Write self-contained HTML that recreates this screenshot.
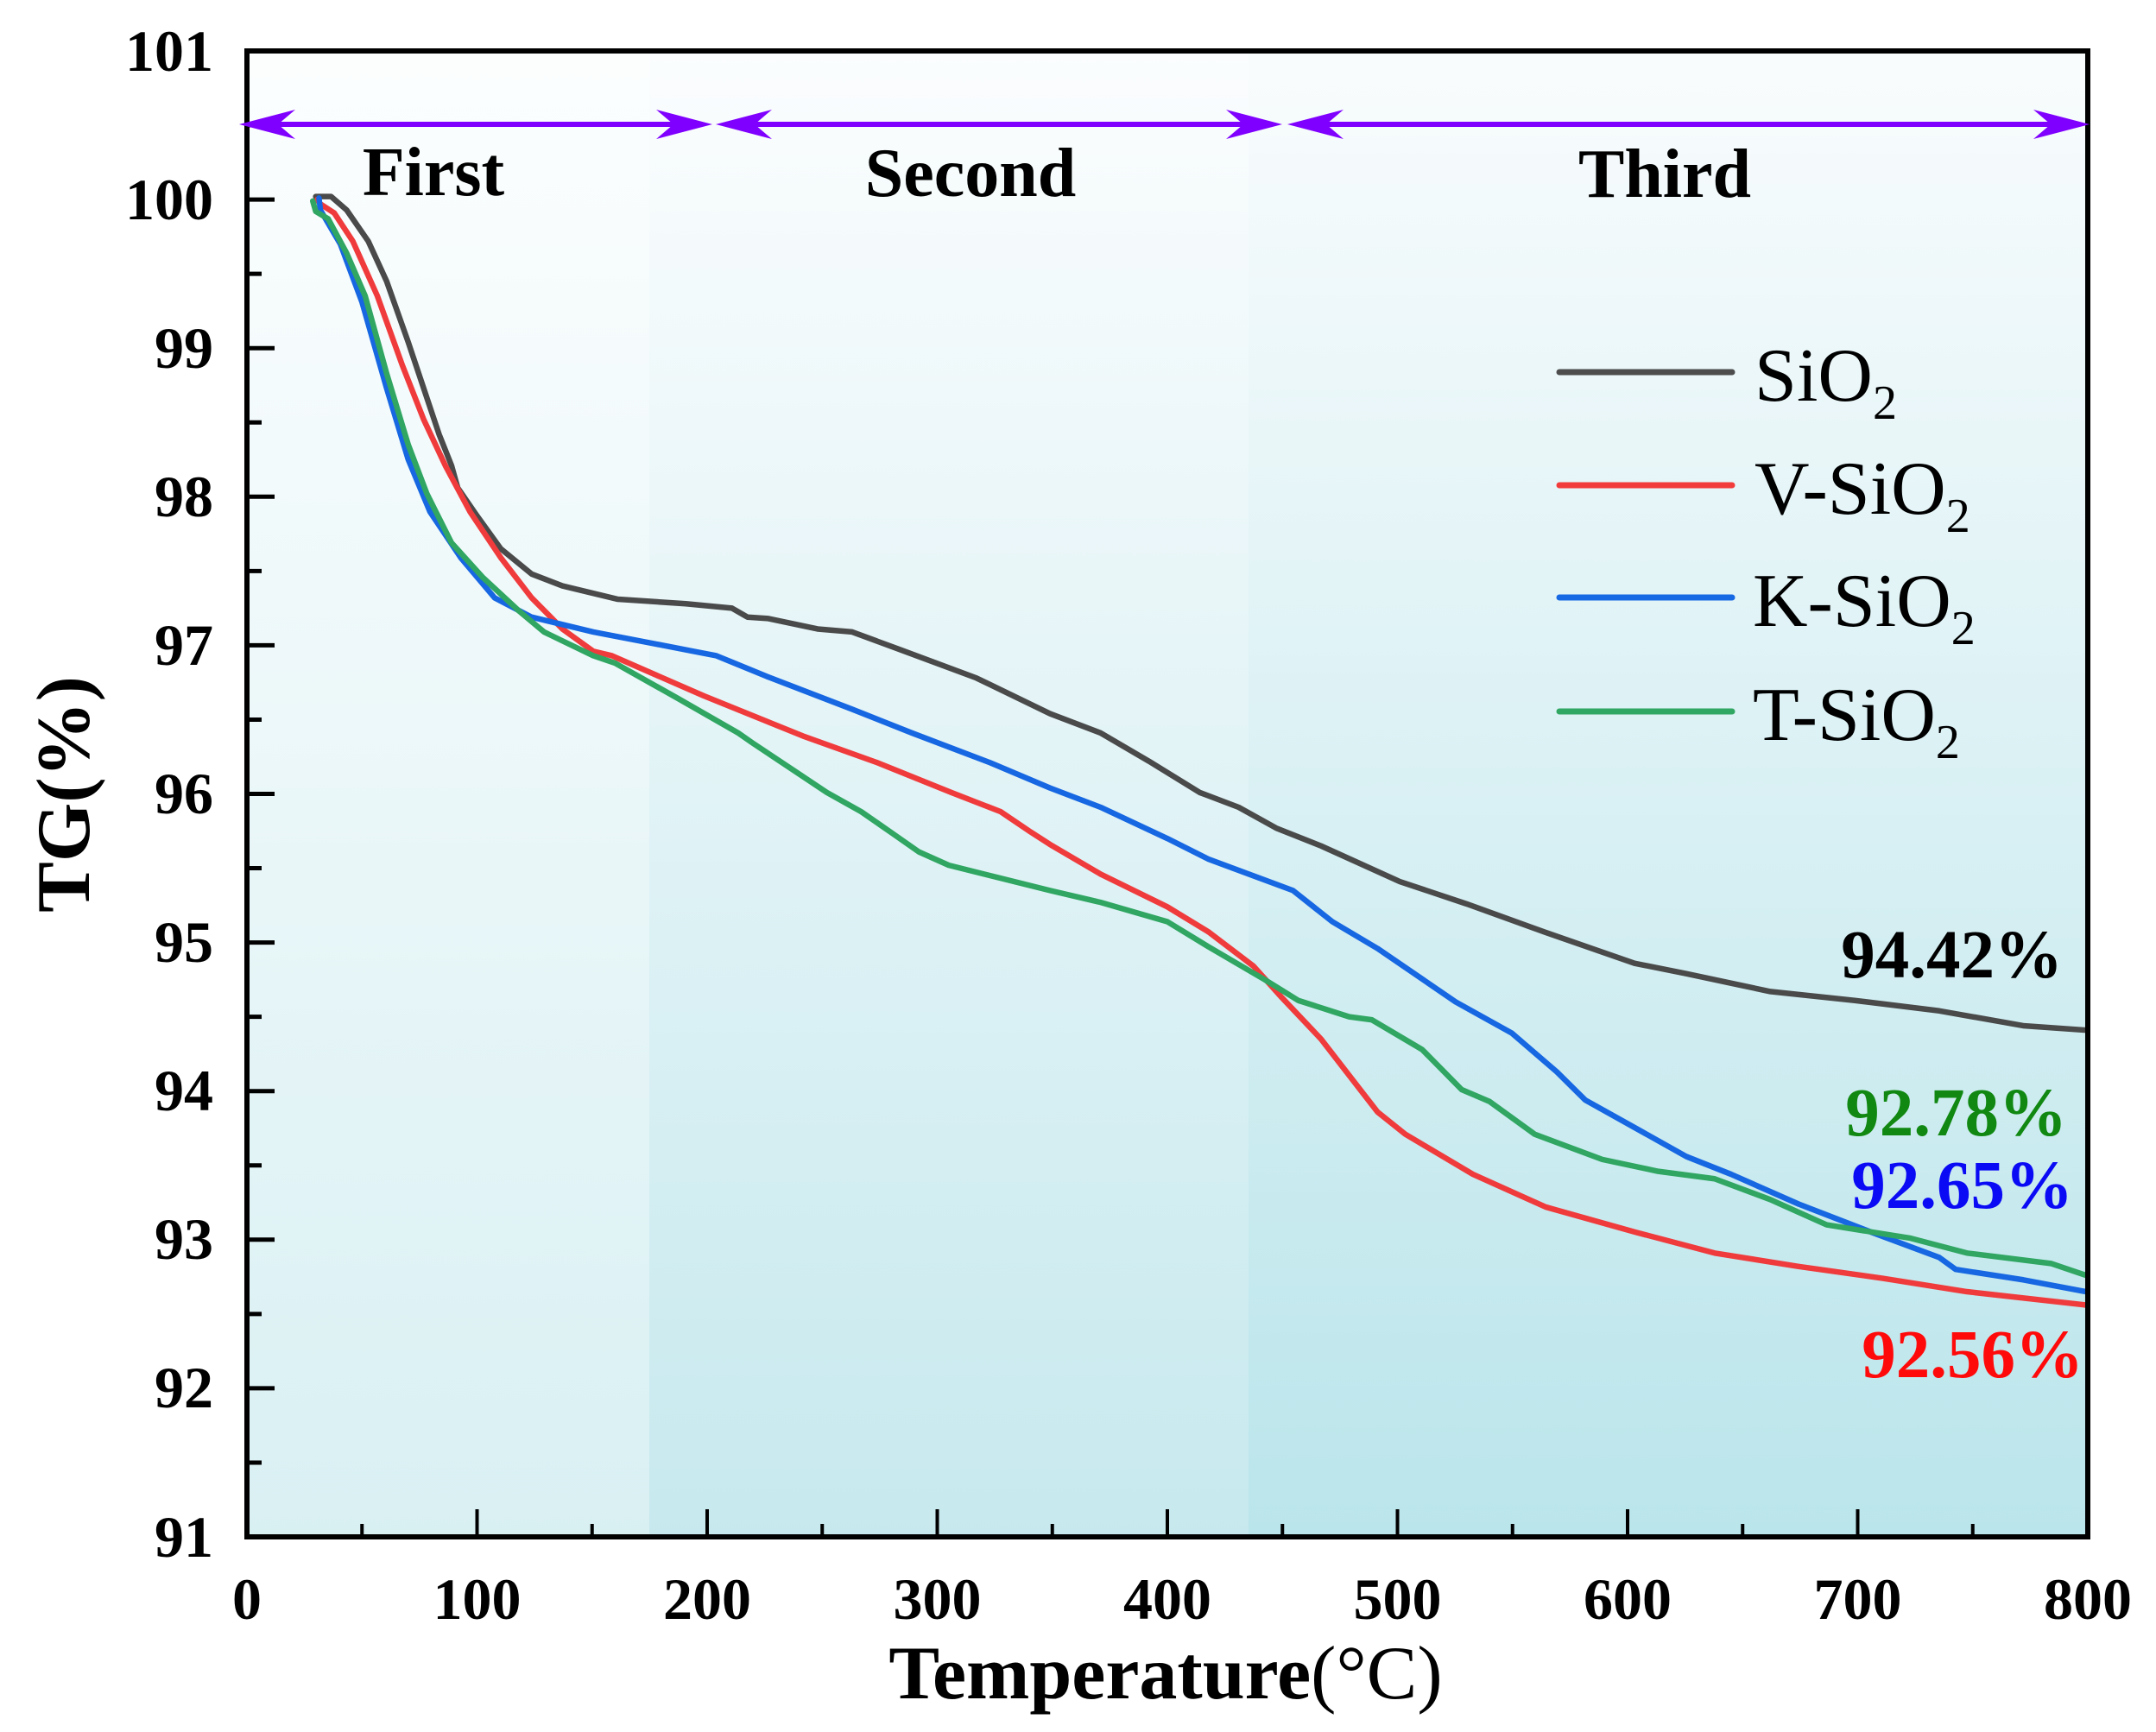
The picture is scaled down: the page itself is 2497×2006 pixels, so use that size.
<!DOCTYPE html>
<html>
<head>
<meta charset="utf-8">
<style>
  html,body{margin:0;padding:0;background:#fff;}
  svg{display:block;}
  text{font-family:"Liberation Serif","Times New Roman",serif;}
</style>
</head>
<body>
<svg width="2497" height="2006" viewBox="0 0 2497 2006" xmlns="http://www.w3.org/2000/svg">
  <defs>
    <linearGradient id="gL" x1="0" y1="0" x2="0" y2="1">
      <stop offset="0" stop-color="#fcfefe"/>
      <stop offset="1" stop-color="#d9f0f3"/>
    </linearGradient>
    <linearGradient id="gM" x1="0" y1="0" x2="0" y2="1">
      <stop offset="0" stop-color="#fbfdfe"/>
      <stop offset="1" stop-color="#c7e9ee"/>
    </linearGradient>
    <linearGradient id="gR" x1="0" y1="0" x2="0" y2="1">
      <stop offset="0" stop-color="#f9fcfd"/>
      <stop offset="1" stop-color="#bae5eb"/>
    </linearGradient>
  </defs>

  <rect x="0" y="0" width="2497" height="2006" fill="#ffffff"/>

  <!-- background regions -->
  <rect x="286" y="59" width="466" height="1721" fill="url(#gL)"/>
  <rect x="752" y="59" width="694" height="1721" fill="url(#gM)"/>
  <rect x="1446" y="59" width="972" height="1721" fill="url(#gR)"/>

  <!-- curves (data coords mapped) -->
  <g transform="translate(286,1780) scale(2.665,-172.1) translate(0,-91)" fill="none" stroke-linejoin="round" stroke-linecap="round">
    <polyline vector-effect="non-scaling-stroke" stroke="#4a4a4a" stroke-width="6.5" points="
      29.9,100.02 36.6,100.02 43.3,99.93 52.7,99.72 60.7,99.45 70.1,99.04 76.8,98.73 83.5,98.42 88.9,98.21 91.6,98.06
      99.6,97.88 110.3,97.65 123.7,97.48 137.1,97.40 161.2,97.31 190.7,97.28 210.8,97.25 217.5,97.19 226.6,97.18
      248,97.11 263,97.09 284,96.97 317,96.78 349,96.54 371,96.41 392,96.22 414,96.01 431,95.91 447.3,95.77
      466.8,95.65 501,95.41 530,95.26 564,95.07 603,94.86 625.5,94.79 662,94.67 698.7,94.61 735.5,94.54 771.9,94.44 799.3,94.41"/>
    <polyline vector-effect="non-scaling-stroke" stroke="#f03b3c" stroke-width="6.5" points="
      30.5,100.0 31.9,99.97 37.9,99.91 46,99.72 56.7,99.35 67.4,98.89 76.8,98.52 86.2,98.21 96.9,97.90 110.3,97.59
      123.7,97.32 137.1,97.11 150.5,96.96 158.6,96.93 198.5,96.66 241.6,96.39 274,96.21 306,96.01 327.6,95.88
      340,95.75 349,95.66 371,95.46 400,95.24 418,95.07 437.5,94.84 449.7,94.63 466.8,94.35 491.3,93.86 503.4,93.71
      532.8,93.44 564.4,93.22 603.6,93.05 637.8,92.91 674.3,92.82 710.9,92.74 747.5,92.65 799.3,92.56"/>
    <polyline vector-effect="non-scaling-stroke" stroke="#1767e2" stroke-width="6.5" points="
      31.3,100.01 31.9,99.93 40.6,99.70 50,99.31 60.7,98.73 70.1,98.25 79.5,97.90 92.9,97.59 107.6,97.32 123.7,97.19
      150.5,97.09 177.3,97.01 194,96.96 204,96.93 226,96.79 263,96.57 289,96.41 323,96.21 349,96.04 371,95.91
      400,95.70 418,95.56 454.6,95.35 471.7,95.14 491.3,94.96 525.3,94.60 549.7,94.39 569.2,94.13 581.6,93.94
      603.6,93.75 625.5,93.56 645,93.44 674.3,93.24 706,93.05 735.5,92.88 742.6,92.80 771.9,92.73 799.3,92.65"/>
    <polyline vector-effect="non-scaling-stroke" stroke="#30a662" stroke-width="6.5" points="
      28.6,99.99 29.9,99.92 35.3,99.87 43.3,99.64 51.4,99.35 60.7,98.83 70.1,98.35 78.2,98.02 88.9,97.69 102.3,97.46
      118.3,97.23 129.1,97.09 137.1,97.03 150.5,96.93 160,96.88 187.6,96.64 213.5,96.41 220,96.34 252,96.01 267,95.88
      280,95.74 292,95.61 305,95.52 323,95.45 349,95.35 371,95.27 400,95.14 418,94.97 442.3,94.75 456.9,94.61
      479,94.50 488.8,94.48 510.7,94.28 527.9,94.01 540,93.93 559.6,93.71 589,93.54 613.3,93.46 637.8,93.41
      662,93.27 686.5,93.10 723,93.01 747.5,92.91 784,92.84 799.3,92.76"/>
  </g>

  <!-- frame -->
  <rect x="286" y="59" width="2132" height="1721" fill="none" stroke="#000" stroke-width="6"/>

  <!-- y ticks -->
  <g stroke="#000" stroke-width="5">
    <line x1="286" y1="231.1" x2="318" y2="231.1"/>
    <line x1="286" y1="403.2" x2="318" y2="403.2"/>
    <line x1="286" y1="575.3" x2="318" y2="575.3"/>
    <line x1="286" y1="747.4" x2="318" y2="747.4"/>
    <line x1="286" y1="919.5" x2="318" y2="919.5"/>
    <line x1="286" y1="1091.6" x2="318" y2="1091.6"/>
    <line x1="286" y1="1263.7" x2="318" y2="1263.7"/>
    <line x1="286" y1="1435.8" x2="318" y2="1435.8"/>
    <line x1="286" y1="1607.9" x2="318" y2="1607.9"/>
    <line x1="286" y1="145.05" x2="303" y2="145.05"/>
    <line x1="286" y1="317.15" x2="303" y2="317.15"/>
    <line x1="286" y1="489.25" x2="303" y2="489.25"/>
    <line x1="286" y1="661.35" x2="303" y2="661.35"/>
    <line x1="286" y1="833.45" x2="303" y2="833.45"/>
    <line x1="286" y1="1005.55" x2="303" y2="1005.55"/>
    <line x1="286" y1="1177.65" x2="303" y2="1177.65"/>
    <line x1="286" y1="1349.75" x2="303" y2="1349.75"/>
    <line x1="286" y1="1521.85" x2="303" y2="1521.85"/>
    <line x1="286" y1="1693.95" x2="303" y2="1693.95"/>
  </g>
  <!-- x ticks -->
  <g stroke="#000" stroke-width="4">
    <line x1="552.5" y1="1780" x2="552.5" y2="1748"/>
    <line x1="819" y1="1780" x2="819" y2="1748"/>
    <line x1="1085.5" y1="1780" x2="1085.5" y2="1748"/>
    <line x1="1352" y1="1780" x2="1352" y2="1748"/>
    <line x1="1618.5" y1="1780" x2="1618.5" y2="1748"/>
    <line x1="1885" y1="1780" x2="1885" y2="1748"/>
    <line x1="2151.5" y1="1780" x2="2151.5" y2="1748"/>
    <line x1="419.25" y1="1780" x2="419.25" y2="1765"/>
    <line x1="685.75" y1="1780" x2="685.75" y2="1765"/>
    <line x1="952.25" y1="1780" x2="952.25" y2="1765"/>
    <line x1="1218.75" y1="1780" x2="1218.75" y2="1765"/>
    <line x1="1485.25" y1="1780" x2="1485.25" y2="1765"/>
    <line x1="1751.75" y1="1780" x2="1751.75" y2="1765"/>
    <line x1="2018.25" y1="1780" x2="2018.25" y2="1765"/>
    <line x1="2284.75" y1="1780" x2="2284.75" y2="1765"/>
  </g>

  <!-- y tick labels -->
  <g font-size="68" font-weight="bold" text-anchor="end" fill="#000">
    <text x="247" y="82">101</text>
    <text x="247" y="254">100</text>
    <text x="247" y="426">99</text>
    <text x="247" y="598">98</text>
    <text x="247" y="770">97</text>
    <text x="247" y="942">96</text>
    <text x="247" y="1114">95</text>
    <text x="247" y="1286">94</text>
    <text x="247" y="1458">93</text>
    <text x="247" y="1630">92</text>
    <text x="247" y="1803">91</text>
  </g>
  <!-- x tick labels -->
  <g font-size="68" font-weight="bold" text-anchor="middle" fill="#000">
    <text x="286" y="1875">0</text>
    <text x="552.5" y="1875">100</text>
    <text x="819" y="1875">200</text>
    <text x="1085.5" y="1875">300</text>
    <text x="1352" y="1875">400</text>
    <text x="1618.5" y="1875">500</text>
    <text x="1885" y="1875">600</text>
    <text x="2151.5" y="1875">700</text>
    <text x="2418" y="1875">800</text>
  </g>

  <!-- axis titles -->
  <text x="1350" y="1967" font-size="88" font-weight="bold" text-anchor="middle" fill="#000">Temperature<tspan font-weight="normal">(°C)</tspan></text>
  <text transform="translate(103,920) rotate(-90)" font-size="88" font-weight="bold" text-anchor="middle" fill="#000">TG(%)</text>

  <!-- region arrows -->
  <g fill="#8000ff" stroke="none">
    <rect x="300" y="141" width="510" height="6"/>
    <path d="M277,144 L342,127 L322,144 L342,161 Z"/>
    <path d="M825,144 L760,127 L780,144 L760,161 Z"/>
    <rect x="845" y="141" width="625" height="6"/>
    <path d="M829,144 L894,127 L874,144 L894,161 Z"/>
    <path d="M1485,144 L1420,127 L1440,144 L1420,161 Z"/>
    <rect x="1510" y="141" width="895" height="6"/>
    <path d="M1491,144 L1556,127 L1536,144 L1556,161 Z"/>
    <path d="M2420,144 L2355,127 L2375,144 L2355,161 Z"/>
  </g>

  <!-- region labels -->
  <g font-size="80" font-weight="bold" text-anchor="middle" fill="#000">
    <text x="502" y="226">First</text>
    <text x="1124" y="227">Second</text>
    <text x="1928" y="228">Third</text>
  </g>

  <!-- legend -->
  <g stroke-width="7" stroke-linecap="round">
    <line x1="1806" y1="431" x2="2006" y2="431" stroke="#4d4d4d"/>
    <line x1="1806" y1="562" x2="2006" y2="562" stroke="#f23c3c"/>
    <line x1="1806" y1="692" x2="2006" y2="692" stroke="#1668e3"/>
    <line x1="1806" y1="824" x2="2006" y2="824" stroke="#31a764"/>
  </g>
  <g font-size="88" fill="#000">
    <text x="2032" y="464">SiO<tspan font-size="56" dy="21">2</tspan></text>
    <text x="2032" y="595">V-SiO<tspan font-size="56" dy="21">2</tspan></text>
    <text x="2030" y="725">K-SiO<tspan font-size="56" dy="21">2</tspan></text>
    <text x="2030" y="857">T-SiO<tspan font-size="56" dy="21">2</tspan></text>
  </g>

  <!-- end value annotations -->
  <g font-size="79" font-weight="bold" text-anchor="end">
    <text x="2389" y="1132" fill="#000000">94.42%</text>
    <text x="2394" y="1315" fill="#118811">92.78%</text>
    <text x="2401" y="1399" fill="#0a0af5">92.65%</text>
    <text x="2413" y="1595" fill="#ff0a0a">92.56%</text>
  </g>
</svg>
</body>
</html>
